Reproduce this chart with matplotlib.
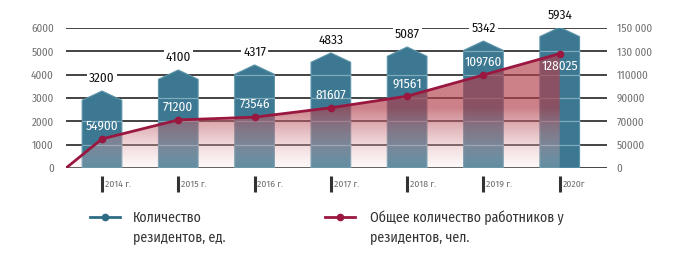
import numpy as np
import matplotlib
matplotlib.use("Agg")
import matplotlib.pyplot as plt
from matplotlib.patches import Polygon
from matplotlib.lines import Line2D
import matplotlib.transforms as mtransforms

plt.rcParams['font.family'] = ['Fira Sans Condensed', 'DejaVu Sans']

years = ['2014 г.', '2015 г.', '2016 г.', '2017 г.', '2018 г.', '2019 г.', '2020г']
residents = [3200, 4100, 4317, 4833, 5087, 5342, 5934]
workers = [54900, 71200, 73546, 81607, 91561, 109760, 128025]

left_ticks = [0, 1000, 2000, 3000, 4000, 5000, 6000]
right_ticks = [0, 50000, 70000, 90000, 110000, 130000, 150000]
right_labels = ['0', '50000', '70000', '90000', '110000', '130 000', '150 000']

teal = '#3c7891'
crimson = '#9a1740'
grey_txt = '#707070'

fig = plt.figure(figsize=(6.89, 2.67), dpi=100)
ax = fig.add_axes([0.096, 0.371, 0.785, 0.524])
x = np.arange(len(years))
xmin, xmax = -0.47, 6.62
ax.set_xlim(xmin, xmax)
ax.set_ylim(0, 6000)

# grid
for v in left_ticks:
    ax.axhline(v, color='#111111', lw=1.1, zorder=0)

# house-shaped bars
w = 0.52
for xi, v in zip(x, residents):
    verts = [(xi - w / 2, 0), (xi - w / 2, v - 300), (xi, v + 100),
             (xi + w / 2, v - 300), (xi + w / 2, 0)]
    ax.add_patch(Polygon(verts, closed=True, facecolor=teal,
                         edgecolor='#5d95aa', lw=0.8, zorder=2))
    lv = [g for g in left_ticks if 0 < g < v - 300]
    ax.hlines(lv, xi - w / 2, xi + w / 2, color='#8fb7c6', lw=0.9, alpha=0.8, zorder=2.2)
    ax.annotate(f'{v}', (xi, v), xytext=(0, 10.5), textcoords='offset points',
                ha='center', va='center', fontsize=9.5, color='#111111', zorder=6,
                bbox=dict(boxstyle='square,pad=0.15', fc='white', ec='none'))

ax.set_yticks(left_ticks)
ax.set_yticklabels([str(t) for t in left_ticks])
ax.tick_params(axis='y', length=0, pad=9, labelsize=8, labelcolor=grey_txt)
ax.set_xticks([])
for s in ax.spines.values():
    s.set_visible(False)

# secondary axis (piecewise scale)
uni = np.arange(len(right_ticks), dtype=float)


def fwd(v):
    return np.interp(v, right_ticks, uni)


def inv(u):
    return np.interp(u, uni, right_ticks)


ax2 = ax.twinx()
ax2.set_yscale('function', functions=(fwd, inv))
ax2.set_ylim(0, 150000)
ax2.set_yticks(right_ticks)
ax2.set_yticklabels(right_labels)
ax2.tick_params(axis='y', length=0, pad=7, labelsize=8, labelcolor=grey_txt)
for s in ax2.spines.values():
    s.set_visible(False)

lx = np.concatenate([[xmin], x])
ly = np.concatenate([[0], workers])

# gradient fill under the line
fill = ax2.fill_between(lx, 0, ly, facecolor='none', edgecolor='none')
clip = fill.get_paths()[0]
n = 300
yy = np.linspace(6000, 0, n)
t = np.clip(yy / 2600, 0, 1) ** 0.9
top = np.array([178, 62, 75]) / 255
bot = np.array([245, 225, 225]) / 255
rgba = np.zeros((n, 1, 4))
rgba[:, 0, :3] = bot + (top - bot) * t[:, None]
rgba[:, 0, 3] = 0.2 + (0.66 - 0.2) * t
im = ax.imshow(rgba, extent=[xmin, xmax, 0, 6000], aspect='auto', zorder=3,
               interpolation='bilinear')
im.set_clip_path(clip, transform=ax2.transData)

ax2.plot(lx, ly, color=crimson, lw=2, zorder=4)
ax2.plot(x, workers, 'o', color=crimson, ms=4.5, zorder=5)
for i, (xi, v) in enumerate(zip(x, workers)):
    dy = -9 if i == len(x) - 1 else 9
    ax2.annotate(f'{v}', (xi, v), xytext=(0, dy), textcoords='offset points',
                 ha='center', va='center', fontsize=9.5, color='white', zorder=6)

# year markers
tr = mtransforms.blended_transform_factory(ax.transData, ax.transAxes)
ax.vlines(x, -0.175, -0.06, transform=tr, color='#333333', lw=2.2, clip_on=False)
for xi, lab in zip(x, years):
    ax.text(xi + 0.035, -0.117, lab, transform=tr, ha='left', va='center',
            fontsize=7, color=grey_txt, clip_on=False)

# legend
legend_y = 0.187
fig.add_artist(Line2D([0.131, 0.174], [legend_y, legend_y], color='#2f6c84', lw=2,
                      transform=fig.transFigure))
fig.add_artist(Line2D([0.1525], [legend_y], color='#2f6c84', marker='o', ms=4.5,
                      transform=fig.transFigure))
fig.add_artist(Line2D([0.472, 0.515], [legend_y, legend_y], color=crimson, lw=2,
                      transform=fig.transFigure))
fig.add_artist(Line2D([0.4935], [legend_y], color=crimson, marker='o', ms=4.5,
                      transform=fig.transFigure))
fig.text(0.193, 0.212, 'Количество\nрезидентов, ед.', ha='left', va='top',
         fontsize=10, color='#333333', linespacing=1.45)
fig.text(0.537, 0.212, 'Общее количество работников у\nрезидентов, чел.', ha='left',
         va='top', fontsize=10, color='#333333', linespacing=1.45)

fig.savefig('out.png', dpi=100)
